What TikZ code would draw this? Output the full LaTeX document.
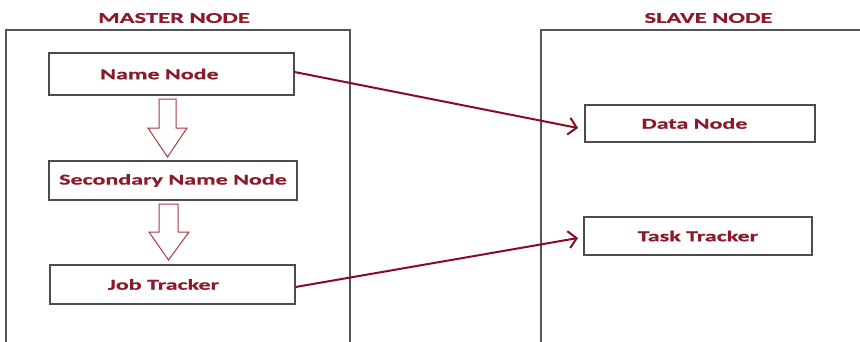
\documentclass[tikz,border=0pt]{standalone}
\usepackage{fontspec}
\setmainfont{Carlito}
\newfontfamily\boxfont[FakeStretch=1.6,FakeBold=0.6]{Carlito Bold}
\newfontfamily\titlefont[FakeStretch=1.64,FakeBold=0.6]{Carlito Bold}
\usetikzlibrary{arrows.meta}
\definecolor{txtred}{HTML}{8C1A2A}
\definecolor{linered}{HTML}{8B0A24}
\definecolor{hollow}{HTML}{A83A44}
\definecolor{frame}{HTML}{555555}
\begin{document}
\begin{tikzpicture}[x=1pt,y=-1pt,
  box/.style={draw=frame!90!black,line width=1.1pt,fill=white,inner sep=0pt,font=\boxfont\fontsize{15}{17}\selectfont,text=txtred},
  title/.style={font=\titlefont\fontsize{15}{17}\selectfont,text=txtred,inner sep=0pt},
  cont/.style={draw=frame,line width=1.3pt},
  link/.style={draw=linered,line width=2pt,-{Straight Barb[length=8pt,width=17pt,line width=2pt]}},
  hollowarrow/.style={draw=hollow,line width=1pt,fill=white}]
\useasboundingbox (0,0) rectangle (860,341);
% containers
\draw[cont] (6,345) -- (6,30) -- (350,30) -- (350,345);
\draw[cont] (541,345) -- (541,30) -- (865,30);
\node[title] (mtitle) at (174,18) {MASTER NODE};
\node[title] (stitle) at (708.5,18) {SLAVE NODE};
% boxes
\node[box,minimum width=245pt,minimum height=42pt] (nn) at (171.5,74) {Name Node\hspace*{24pt}};
\node[box,minimum width=248pt,minimum height=39pt] (snn) at (173,180.5) {Secondary Name Node};
\node[box,minimum width=245pt,minimum height=39pt] (jt) at (172.5,284.5) {Job Tracker\hspace*{18pt}};
\node[box,minimum width=230pt,minimum height=37pt] (dn) at (700,123.5) {Data Node\hspace*{11pt}};
\node[box,minimum width=228pt,minimum height=38pt] (tt) at (698,236) {Task Tracker};
% hollow arrows
\draw[hollowarrow] (159,99) -- (176,99) -- (176,128) -- (187,128) -- (167.5,157) -- (148,128) -- (159,128) -- cycle;
\draw[hollowarrow] (159,204) -- (178,204) -- (178,232) -- (189,232) -- (168.5,260) -- (149,232) -- (159,232) -- cycle;
% links
\coordinate (dnin) at (578,128);
\coordinate (ttin) at (578,238);
\draw[link] (nn.east |- 0,72) -- (dnin);
\draw[link] (jt.east |- 0,287) -- (ttin);
\end{tikzpicture}
\end{document}
